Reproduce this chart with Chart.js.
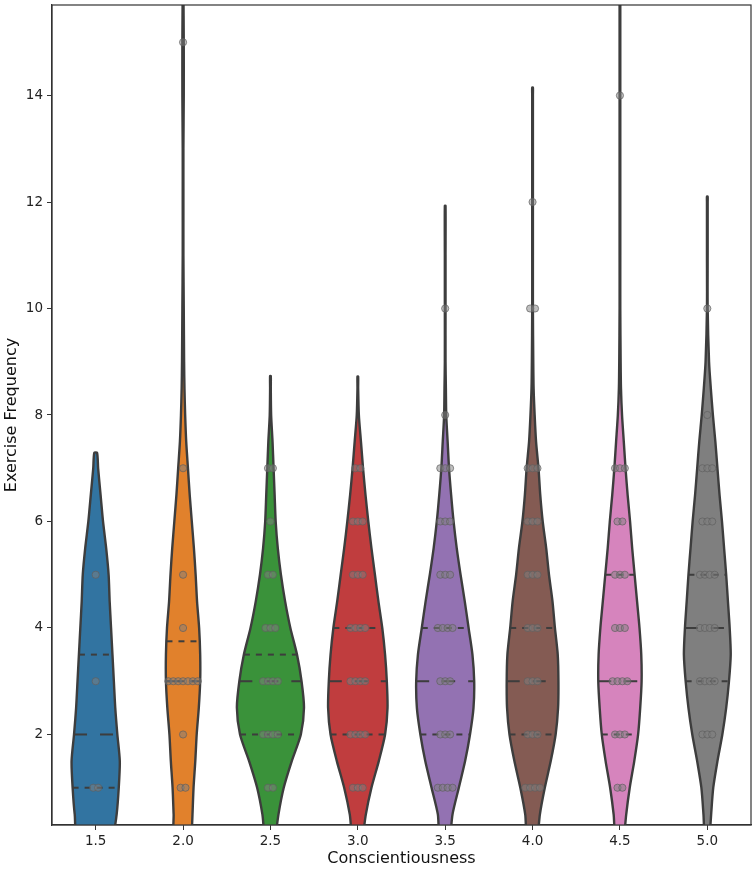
<!DOCTYPE html>
<html>
<head>
<meta charset="utf-8">
<script src="https://cdn.jsdelivr.net/npm/chart.js@4.4.1/dist/chart.umd.min.js"></script>
<style>
  html, body { margin: 0; padding: 0; background: #fff; }
  #wrap { width: 756px; height: 870px; }
</style>
</head>
<body>
<div id="wrap"><canvas id="violinChart" width="756" height="870"></canvas></div>
<script>
const categories = [1.5, 2.0, 2.5, 3.0, 3.5, 4.0, 4.5, 5.0];
const xTickLabels = ['1.5', '2.0', '2.5', '3.0', '3.5', '4.0', '4.5', '5.0'];
const yTicks = [2, 4, 6, 8, 10, 12, 14];
const colors = ['#3274a1', '#e1812c', '#3a923a', '#c03d3e', '#9372b2', '#845b53', '#d684bd', '#7f7f7f'];

// density levels (exercise frequency) and the relative density of each violin there
const levels = [0, 0.5, 1, 1.5, 2, 2.5, 3, 3.5, 4, 4.5, 5, 5.5, 6, 6.5, 7, 7.5, 8, 8.5, 9, 10, 11, 12, 13, 14, 15, 16];
const density15 = [0.49, 0.60, 0.66, 0.69, 0.62, 0.56, 0.52, 0.48, 0.44, 0.40, 0.37, 0.30, 0.21, 0.14, 0.07, null, null, null, null, null, null, null, null, null, null, null];
const density20 = [0.24, 0.27, 0.30, 0.35, 0.39, 0.45, 0.49, 0.49, 0.46, 0.40, 0.36, 0.31, 0.25, 0.19, 0.14, 0.09, 0.06, 0.04, 0.03, 0.02, 0.01, 0.01, 0.01, 0.02, 0.02, 0.01];
const density25 = [0.13, 0.23, 0.38, 0.61, 0.87, 0.96, 0.89, 0.76, 0.57, 0.42, 0.30, 0.21, 0.15, 0.12, 0.09, 0.06, 0.02, 0.01, null, null, null, null, null, null, null, null];
const density30 = [0.13, 0.23, 0.39, 0.60, 0.78, 0.85, 0.83, 0.78, 0.70, 0.59, 0.49, 0.39, 0.30, 0.22, 0.15, 0.09, 0.03, 0.01, null, null, null, null, null, null, null, null];
const density35 = [0.14, 0.21, 0.39, 0.57, 0.71, 0.81, 0.83, 0.78, 0.67, 0.56, 0.44, 0.33, 0.24, 0.17, 0.11, 0.07, 0.03, 0.02, 0.01, 0.01, 0.01, null, null, null, null, null];
const density40 = [0.14, 0.21, 0.35, 0.52, 0.66, 0.73, 0.74, 0.72, 0.64, 0.57, 0.47, 0.39, 0.29, 0.22, 0.17, 0.10, 0.06, 0.03, 0.02, 0.01, 0.01, 0.01, 0.01, 0.01, null, null];
const density45 = [0.11, 0.18, 0.28, 0.41, 0.52, 0.58, 0.62, 0.61, 0.56, 0.49, 0.42, 0.35, 0.29, 0.22, 0.16, 0.11, 0.06, 0.03, 0.02, 0.01, 0.01, 0.01, 0.01, 0.01, 0.01, 0.01];
const density50 = [0.06, 0.11, 0.17, 0.29, 0.43, 0.54, 0.62, 0.67, 0.64, 0.59, 0.54, 0.48, 0.42, 0.35, 0.29, 0.23, 0.16, 0.10, 0.05, 0.01, 0.01, 0.01, null, null, null, null];
const violinTop = [7.29, 16, 8.73, 8.72, 11.93, 14.15, 16, 12.1];
const violinTip = [0.04, 0.01, 0.01, 0.01, 0.01, 0.01, 0.01, 0.01];

const q1 = [1, 3, 2, 2, 2, 2, 2, 3];
const medians = [2, 3, 3, 3, 3, 3, 3, 4];
const q3 = [3.5, 3.75, 3.5, 4, 4, 4, 5, 5];

// the individual answers drawn as grey dots
const obs15 = [1, 1, 3, 5];
const obs20 = [1, 1, 2, 3, 3, 3, 3, 3, 3, 3, 4, 5, 7, 15];
const obs25 = [1, 1, 2, 2, 2, 2, 3, 3, 3, 3, 4, 4, 4, 5, 5, 6, 7, 7];
const obs30 = [1, 1, 1, 2, 2, 2, 2, 3, 3, 3, 3, 4, 4, 4, 4, 5, 5, 5, 6, 6, 6, 7, 7];
const obs35 = [1, 1, 1, 1, 2, 2, 2, 3, 3, 3, 4, 4, 4, 4, 5, 5, 5, 6, 6, 6, 7, 7, 7, 8, 10];
const obs40 = [1, 1, 1, 1, 2, 2, 2, 3, 3, 3, 4, 4, 4, 5, 5, 5, 6, 6, 6, 7, 7, 7, 10, 10, 12];
const obs45 = [1, 1, 2, 2, 2, 3, 3, 3, 3, 4, 4, 4, 5, 5, 5, 6, 6, 7, 7, 7, 14];
const obs50 = [2, 2, 2, 3, 3, 3, 3, 4, 4, 4, 4, 5, 5, 5, 5, 6, 6, 6, 7, 7, 7, 8, 10];

const densities = [density15, density20, density25, density30, density35, density40, density45, density50];
const observations = [obs15, obs20, obs25, obs30, obs35, obs40, obs45, obs50];

const halfWidth = 0.2;   // x units for density 1
const jitter = 0.028;
const lineColor = '#3d3d3d';
const tickFont = { family: 'DejaVu Sans', size: 13.5 };
const titleFont = { family: 'DejaVu Sans', size: 16 };

function outline(i) {
  const c = categories[i], d = densities[i];
  const right = [], left = [];
  levels.forEach((y, k) => {
    if (d[k] === null || y > violinTop[i]) return;
    right.push({ x: c + d[k] * halfWidth, y: y });
    left.unshift({ x: c - d[k] * halfWidth, y: y });
  });
  right.push({ x: c + violinTip[i] * halfWidth, y: violinTop[i] });
  left.unshift({ x: c - violinTip[i] * halfWidth, y: violinTop[i] });
  return right.concat(left, [right[0]]);
}

function densityAt(i, q) {
  const d = densities[i];
  for (let k = 0; k < levels.length - 1; k++) {
    if (q >= levels[k] && q <= levels[k + 1]) {
      const t = (q - levels[k]) / (levels[k + 1] - levels[k]);
      return d[k] + t * ((d[k + 1] === null ? d[k] : d[k + 1]) - d[k]);
    }
  }
  return 0;
}

const datasets = [];

// dots on top
const dots = [];
observations.forEach((obs, i) => {
  const seen = {};
  obs.forEach(v => {
    const n = obs.filter(o => o === v).length;
    seen[v] = seen[v] === undefined ? 0 : seen[v] + 1;
    dots.push({ x: categories[i] + (seen[v] - (n - 1) / 2) * jitter, y: v });
  });
});
datasets.push({
  label: 'Exercise Frequency',
  data: dots,
  order: 1,
  pointRadius: 3.6,
  pointBackgroundColor: 'rgba(128,128,128,0.5)',
  pointBorderColor: 'rgba(95,95,95,0.7)',
  pointBorderWidth: 1
});

// quartile lines
categories.forEach((c, i) => {
  [[q1[i], [6, 6]], [medians[i], [13, 13]], [q3[i], [6, 6]]].forEach(([q, dash]) => {
    const w = densityAt(i, q) * halfWidth;
    datasets.push({
      data: [{ x: c - w, y: q }, { x: c + w, y: q }],
      order: 2,
      showLine: true,
      borderColor: lineColor,
      borderWidth: 2,
      borderDash: dash,
      borderCapStyle: 'butt',
      pointRadius: 0,
      fill: false
    });
  });
});

// violins
categories.forEach((c, i) => {
  datasets.push({
    data: outline(i),
    order: 3,
    showLine: true,
    fill: 'shape',
    tension: 0.25,
    backgroundColor: colors[i],
    borderColor: lineColor,
    borderWidth: 2.4,
    pointRadius: 0
  });
});

const frame = {
  id: 'frame',
  afterDatasetsDraw(chart) {
    const { ctx, chartArea: a } = chart;
    ctx.save();
    ctx.strokeStyle = '#333';
    ctx.lineWidth = 1.2;
    ctx.strokeRect(a.left, a.top, a.right - a.left, a.bottom - a.top);
    ctx.restore();
  }
};

new Chart(document.getElementById('violinChart'), {
  type: 'scatter',
  data: { datasets: datasets },
  options: {
    responsive: false,
    animation: false,
    layout: { padding: { top: 3, right: 4, left: 0, bottom: 0 } },
    plugins: { legend: { display: false }, tooltip: { enabled: false } },
    scales: {
      x: {
        type: 'linear',
        min: 1.25,
        max: 5.25,
        afterBuildTicks: s => { s.ticks = categories.map(v => ({ value: v })); },
        afterFit: s => { s.height = 45; s.paddingLeft = 0; s.paddingRight = 0; },
        ticks: { callback: (v, idx) => xTickLabels[idx], font: tickFont, color: '#222', padding: 3, maxRotation: 0, autoSkip: false },
        grid: { drawOnChartArea: false, tickLength: 5, tickColor: '#333' },
        border: { color: '#333', width: 1.2 },
        title: { display: true, text: 'Conscientiousness', font: titleFont, color: '#111', padding: { top: 0, bottom: 2 } }
      },
      y: {
        type: 'linear',
        min: 0.3,
        max: 15.7,
        afterBuildTicks: s => { s.ticks = yTicks.map(v => ({ value: v })); },
        afterFit: s => { s.width = 52; s.paddingTop = 0; s.paddingBottom = 0; },
        ticks: { font: tickFont, color: '#222', padding: 4, autoSkip: false },
        grid: { drawOnChartArea: false, tickLength: 5, tickColor: '#333' },
        border: { color: '#333', width: 1.2 },
        title: { display: true, text: 'Exercise Frequency', font: titleFont, color: '#111', padding: { top: 2, bottom: 0 } }
      }
    }
  },
  plugins: [frame]
});
</script>
</body>
</html>
